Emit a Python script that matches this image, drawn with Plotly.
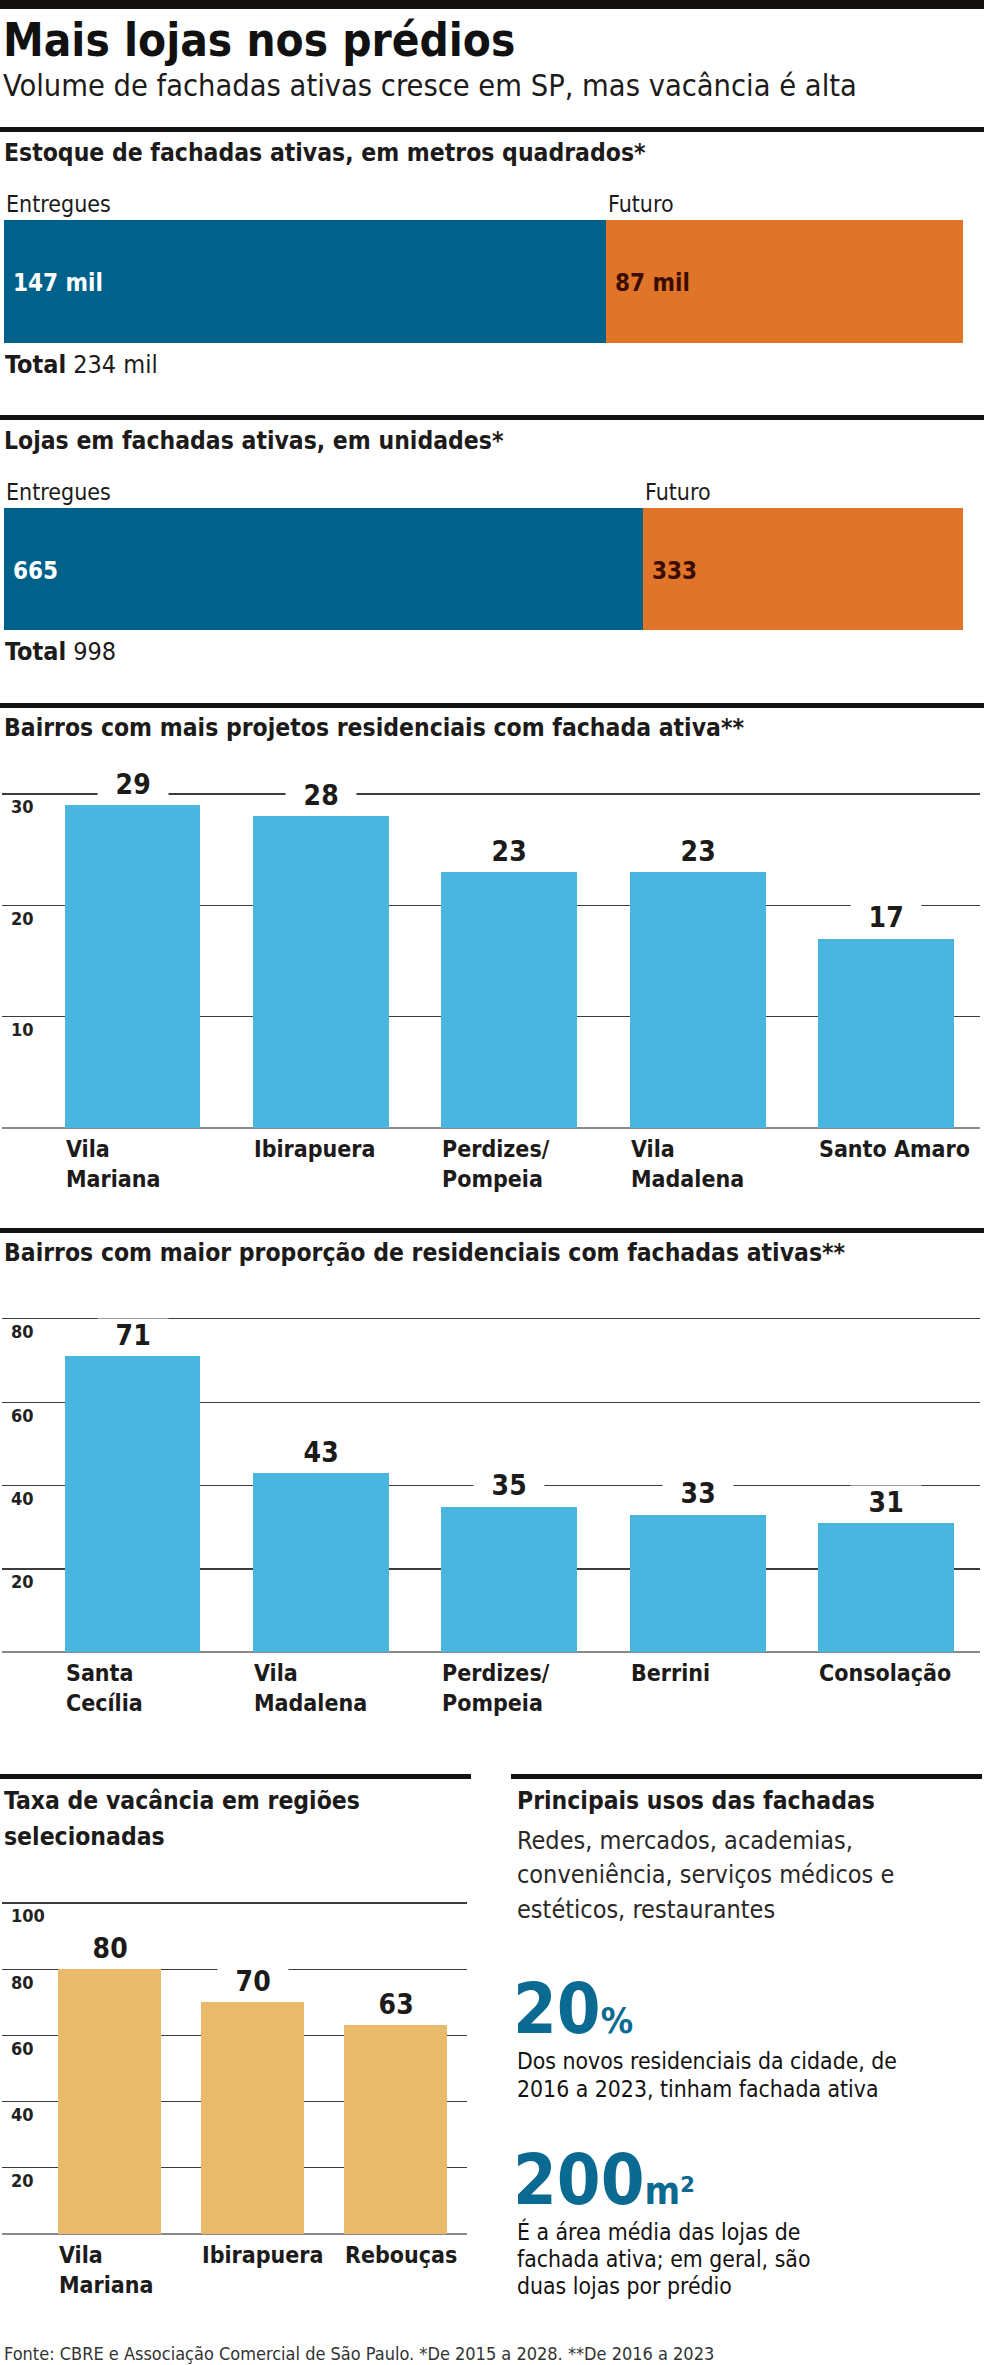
import plotly.graph_objects as go

W, H = 984, 2365
FONT = "'DejaVu Sans Condensed', 'Liberation Sans Narrow', 'Arial Narrow', sans-serif"
DESC = 0.236   # font descent ratio
ASC = 0.928    # font ascent ratio
CAP = 0.729    # cap-height ratio

INK = "#1d1b1a"
DARK_BLUE = "#00628a"
ORANGE = "#e07428"
DARK_BROWN = "#3b0d02"
SKY = "#48b6de"
GOLD = "#e9ba6b"
BIG_BLUE = "#0b6a92"
GRID = "#3c3c3c"

# ---------------- data ----------------
estoque_cats = ["Entregues", "Futuro"]
estoque_vals = [147, 87]
estoque_labels = ["147 mil", "87 mil"]
estoque_total = "234 mil"

lojas_cats = ["Entregues", "Futuro"]
lojas_vals = [665, 333]
lojas_labels = ["665", "333"]
lojas_total = "998"

proj_cats = ["Vila<br>Mariana", "Ibirapuera", "Perdizes/<br>Pompeia", "Vila<br>Madalena", "Santo Amaro"]
proj_vals = [29, 28, 23, 23, 17]
proj_ticks = [10, 20, 30]

prop_cats = ["Santa<br>Cecília", "Vila<br>Madalena", "Perdizes/<br>Pompeia", "Berrini", "Consolação"]
prop_vals = [71, 43, 35, 33, 31]
prop_ticks = [20, 40, 60, 80]

vac_cats = ["Vila<br>Mariana", "Ibirapuera", "Rebouças"]
vac_vals = [80, 70, 63]
vac_ticks = [20, 40, 60, 80, 100]

usos_lines = ["Redes, mercados, academias,",
              "conveniência, serviços médicos e",
              "estéticos, restaurantes"]
stat1_value, stat1_unit = "20", "%"
stat1_lines = ["Dos novos residenciais da cidade, de",
               "2016 a 2023, tinham fachada ativa"]
stat2_value, stat2_unit = "200", "m²"
stat2_lines = ["É a área média das lojas de",
               "fachada ativa; em geral, são",
               "duas lojas por prédio"]

# ---------------- helpers ----------------
fig = go.Figure()
ann = []
shapes = []
layout_axes = {}

SEC = 24.5  # section title size


def X(p):
    return p / W


def Y(p):
    return 1 - p / H


def text(x, base, s, size, bold=False, color=INK, xanchor="left"):
    ann.append(dict(x=X(x), y=Y(base + DESC * size), xref="paper", yref="paper",
                    xanchor=xanchor, yanchor="bottom", showarrow=False, borderpad=0,
                    text=f"<b>{s}</b>" if bold else s, align="left",
                    font=dict(family=FONT, size=size, color=color)))


def rule(y0, y1, x0=0, x1=W, color="#141210"):
    shapes.append(dict(type="rect", xref="paper", yref="paper", x0=X(x0), x1=X(x1),
                       y0=Y(y1), y1=Y(y0), fillcolor=color, line_width=0, layer="above"))


def hstack(n, cats, vals, labels, total, top, bottom):
    xa = "x" if n == 1 else f"x{n}"
    ya = "y" if n == 1 else f"y{n}"
    colors = [DARK_BLUE, ORANGE]
    lab_colors = ["white", DARK_BROWN]
    for c, v, col in zip(cats, vals, colors):
        fig.add_trace(go.Bar(x=[v], y=[0], orientation="h", width=1, name=c,
                             marker=dict(color=col, line_width=0),
                             xaxis=xa, yaxis=ya, showlegend=False, hoverinfo="skip"))
    key = "" if n == 1 else str(n)
    layout_axes[f"xaxis{key}"] = dict(domain=[X(4), X(963)], range=[0, sum(vals)],
                                      visible=False, fixedrange=True)
    layout_axes[f"yaxis{key}"] = dict(domain=[Y(bottom), Y(top)], range=[-0.5, 0.5],
                                      visible=False, fixedrange=True)
    cum = 0
    for c, v, lab, lc in zip(cats, vals, labels, lab_colors):
        ann.append(dict(x=cum, y=0.5, xref=xa, yref=ya, xanchor="left", yanchor="bottom",
                        xshift=1, yshift=7 - DESC * 23, showarrow=False, borderpad=0,
                        text=c, font=dict(family=FONT, size=23, color=INK)))
        ann.append(dict(x=cum, y=0, xref=xa, yref=ya, xanchor="left", yanchor="middle",
                        xshift=8, yshift=-2, showarrow=False, borderpad=0,
                        text=f"<b>{lab}</b>", font=dict(family=FONT, size=24, color=lc)))
        cum += v
    ann.append(dict(x=0, y=-0.5, xref=xa, yref=ya, xanchor="left", yanchor="top",
                    xshift=0, yshift=-6, showarrow=False, borderpad=0,
                    text=f"<b>Total</b> {total}", font=dict(family=FONT, size=25, color=INK)))


def vbars(n, cats, vals, ticks, color, x0, x1, first_center, pitch,
          zero_px, ppu, vmax, bar_w=0.72):
    xa, ya = f"x{n}", f"y{n}"
    fig.add_trace(go.Bar(x=cats, y=vals, width=bar_w, marker=dict(color=color, line_width=0),
                         xaxis=xa, yaxis=ya, showlegend=False, hoverinfo="skip"))
    left = -(first_center - x0) / pitch
    right = left + (x1 - x0) / pitch
    vmin = -2.0 / ppu
    layout_axes[f"xaxis{n}"] = dict(domain=[X(x0), X(x1)], range=[left, right],
                                    type="category", showgrid=False, zeroline=False,
                                    showline=False, showticklabels=False, ticks="",
                                    fixedrange=True)
    layout_axes[f"yaxis{n}"] = dict(domain=[Y(zero_px - vmin * ppu), Y(zero_px - vmax * ppu)],
                                    range=[vmin, vmax], tickvals=ticks,
                                    ticktext=[str(t) for t in ticks],
                                    showgrid=True, gridcolor=GRID, gridwidth=1.2,
                                    zeroline=True, zerolinecolor="#8a8a8a", zerolinewidth=2,
                                    showline=False, ticks="",
                                    ticklabelposition="inside", ticklabelstandoff=4,
                                    ticklabelshift=13,
                                    tickfont=dict(family=FONT, size=18, color="#222",
                                                  weight="bold"),
                                    fixedrange=True)
    half = bar_w / 2 * pitch
    for c, v in zip(cats, vals):
        ann.append(dict(x=c, y=v, xref=xa, yref=ya, xanchor="center", yanchor="bottom",
                        yshift=10 - DESC * 28, showarrow=False, borderpad=0,
                        bgcolor="white",
                        text=f"<b>\u2002\u2009{v}\u2009\u2002</b>",
                        font=dict(family=FONT, size=28, color=INK)))
        ann.append(dict(x=c, y=0, xref=xa, yref=ya, xanchor="left", yanchor="top",
                        xshift=-half, yshift=-7, showarrow=False, borderpad=0,
                        align="left", text=f"<b>{c}</b>",
                        font=dict(family=FONT, size=23, color=INK)))


# ---------------- header ----------------
rule(0, 9)
text(2, 57, "Mais lojas nos prédios", 45.5, bold=True, color="#111")
text(2, 97, "Volume de fachadas ativas cresce em SP, mas vacância é alta", 30.5)

# ---------------- stacked bar 1 ----------------
rule(127, 132)
text(3, 162, "Estoque de fachadas ativas, em metros quadrados*", SEC, bold=True)
hstack(1, estoque_cats, estoque_vals, estoque_labels, estoque_total, 220, 343)

# ---------------- stacked bar 2 ----------------
rule(415, 420)
text(3, 450, "Lojas em fachadas ativas, em unidades*", SEC, bold=True)
hstack(2, lojas_cats, lojas_vals, lojas_labels, lojas_total, 508, 630)

# ---------------- column chart 3 ----------------
rule(703, 708)
text(3, 737, "Bairros com mais projetos residenciais com fachada ativa**", SEC, bold=True)
vbars(3, proj_cats, proj_vals, proj_ticks, SKY, 2, 980, 132.5, 188.4, 1128, 11.13, 36)

# ---------------- column chart 4 ----------------
rule(1228, 1233)
text(3, 1262, "Bairros com maior proporção de residenciais com fachadas ativas**", SEC, bold=True)
vbars(4, prop_cats, prop_vals, prop_ticks, SKY, 2, 980, 132.5, 188.4, 1652.5, 4.171, 92)

# ---------------- column chart 5 ----------------
rule(1774, 1779, 0, 471)
text(3, 1810, "Taxa de vacância em regiões", SEC, bold=True)
text(3, 1846, "selecionadas", SEC, bold=True)
vbars(5, vac_cats, vac_vals, vac_ticks, GOLD, 2, 467, 109.5, 143, 2234, 3.31, 114)

# ---------------- right column ----------------
rule(1774, 1779, 511, 982)
text(516, 1810, "Principais usos das fachadas", SEC, bold=True)
for line, base in zip(usos_lines, [1850, 1884, 1919]):
    text(516, base, line, 25, color="#2a2826")

text(512, 2034, f"<b>{stat1_value}</b><span style='font-size:36px'><b>{stat1_unit}</b></span>",
     70, color=BIG_BLUE)
for line, base in zip(stat1_lines, [2070, 2098]):
    text(516, base, line, 22.8, color="#141210")

text(512, 2205, f"<b>{stat2_value}</b><span style='font-size:38px'><b>{stat2_unit}</b></span>",
     70, color=BIG_BLUE)
for line, base in zip(stat2_lines, [2241, 2268, 2295]):
    text(516, base, line, 22.8, color="#141210")

# ---------------- footer ----------------
text(3, 2361, "Fonte: CBRE e Associação Comercial de São Paulo. *De 2015 a 2028. **De 2016 a 2023",
     18, color="#333")

fig.update_layout(
    width=W, height=H, margin=dict(l=0, r=0, t=0, b=0),
    paper_bgcolor="white", plot_bgcolor="rgba(0,0,0,0)",
    barmode="stack", bargap=0, showlegend=False,
    annotations=ann, shapes=shapes,
    font=dict(family=FONT, color=INK),
    **layout_axes,
)

fig.write_html("out.html", config={"displayModeBar": False, "staticPlot": True},
               post_script="document.body.style.margin='0';document.body.style.overflow='hidden';")
